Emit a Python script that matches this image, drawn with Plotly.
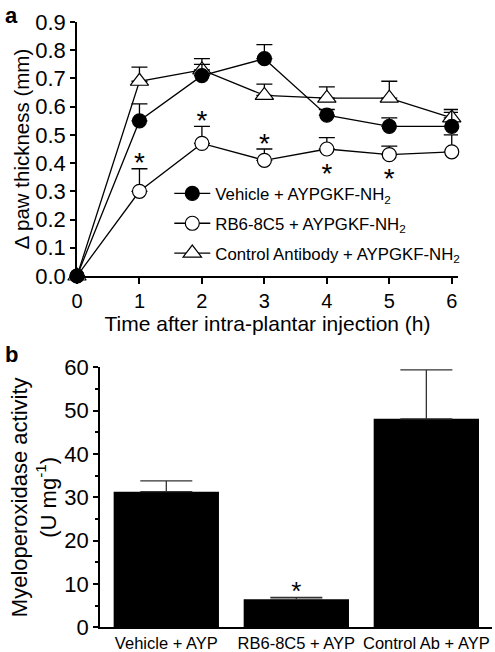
import plotly.graph_objects as go

# ---------------- data ----------------
time_h = [0, 1, 2, 3, 4, 5, 6]
vehicle = [0.0, 0.55, 0.71, 0.77, 0.57, 0.53, 0.53]
vehicle_err = [0.0, 0.06, 0.04, 0.05, 0.02, 0.03, 0.06]
rb6 = [0.0, 0.30, 0.47, 0.41, 0.45, 0.43, 0.44]
rb6_err = [0.0, 0.08, 0.06, 0.04, 0.04, 0.03, 0.06]
ctrl = [0.0, 0.69, 0.73, 0.64, 0.63, 0.63, 0.56]
ctrl_err = [0.0, 0.05, 0.04, 0.04, 0.04, 0.06, 0.02]
sig_times = [1, 2, 3, 4, 5]
sig_side = ["above", "above", "above", "below", "below"]

series_names = [
    "Vehicle + AYPGKF-NH<sub>2</sub>",
    "RB6-8C5 + AYPGKF-NH<sub>2</sub>",
    "Control Antibody + AYPGKF-NH<sub>2</sub>",
]

bar_labels = ["Vehicle + AYP", "RB6-8C5 + AYP", "Control Ab + AYP"]
mpo = [31.3, 6.5, 48.1]
mpo_err = [2.5, 0.4, 11.3]
mpo_sig = [False, True, False]

FONT = "Arial, Liberation Sans, Helvetica, sans-serif"

fig = go.Figure()

line_style = dict(color="black", width=1.3)

# drawn back-to-front: control, RB6, vehicle (legend order kept via legendrank)
fig.add_trace(go.Scatter(
    x=time_h, y=ctrl, mode="lines+markers", name=series_names[2],
    legendgroup="g3", legendrank=3,
    line=line_style,
    marker=dict(symbol="triangle-up", size=16, color="white", line=dict(color="black", width=1.2)),
    error_y=dict(type="data", array=ctrl_err, arrayminus=[0]*len(ctrl_err), symmetric=False,
                 color="black", thickness=1.3, width=8),
    cliponaxis=False, xaxis="x", yaxis="y",
))
fig.add_trace(go.Scatter(
    x=time_h, y=rb6, mode="lines+markers", name=series_names[1],
    legendgroup="g2", legendrank=2,
    line=line_style,
    marker=dict(symbol="circle", size=14, color="white", line=dict(color="black", width=1.2)),
    error_y=dict(type="data", array=rb6_err, arrayminus=[0]*len(rb6_err), symmetric=False,
                 color="black", thickness=1.3, width=8),
    cliponaxis=False, xaxis="x", yaxis="y",
))
fig.add_trace(go.Scatter(
    x=time_h, y=vehicle, mode="lines+markers", name=series_names[0],
    legendgroup="g1", legendrank=1,
    line=line_style,
    marker=dict(symbol="circle", size=14, color="black", line=dict(color="black", width=1.2)),
    error_y=dict(type="data", array=vehicle_err, arrayminus=[0]*len(vehicle_err), symmetric=False,
                 color="black", thickness=1.3, width=8),
    cliponaxis=False, xaxis="x", yaxis="y",
))

star_y = []
for t, side in zip(sig_times, sig_side):
    i = time_h.index(t)
    if side == "above":
        star_y.append(rb6[i] + rb6_err[i] + 0.012)
    else:
        star_y.append(rb6[i] - 0.095)
fig.add_trace(go.Scatter(
    x=sig_times, y=star_y, mode="text", text=["*"] * len(sig_times),
    textfont=dict(family=FONT, size=28, color="black"), textposition="middle center",
    showlegend=False, cliponaxis=False, xaxis="x", yaxis="y", hoverinfo="skip",
))

fig.add_trace(go.Bar(
    x=[0, 1, 2], y=mpo, width=0.81, marker=dict(color="black", line=dict(width=0)),
    error_y=dict(type="data", array=mpo_err, arrayminus=[0]*3, symmetric=False,
                 color="#333333", thickness=1.3, width=26),
    showlegend=False, xaxis="x2", yaxis="y2",
))
bx, by = [], []
for i, s in enumerate(mpo_sig):
    if s:
        bx.append(i)
        by.append(mpo[i] + mpo_err[i] + 0.9)
fig.add_trace(go.Scatter(
    x=bx, y=by, mode="text", text=["*"] * len(bx),
    textfont=dict(family=FONT, size=26, color="black"), textposition="middle center",
    showlegend=False, cliponaxis=False, xaxis="x2", yaxis="y2", hoverinfo="skip",
))

W, H = 495, 652
axis_common = dict(showline=True, linecolor="black", linewidth=1.5, ticks="outside",
                   tickcolor="black", tickwidth=1.5, showgrid=False, zeroline=False,
                   mirror=False, automargin=False)

fig.update_layout(
    template="none",
    width=W, height=H,
    margin=dict(l=0, r=0, t=0, b=0, pad=0),
    paper_bgcolor="white", plot_bgcolor="white",
    font=dict(family=FONT, color="black"),
    showlegend=True,
    legend=dict(x=0.342, y=1 - 176 / H, xanchor="left", yanchor="top",
                font=dict(family=FONT, size=16.8, color="black"),
                bgcolor="rgba(0,0,0,0)", borderwidth=0, tracegroupgap=5, itemwidth=36,
                traceorder="grouped"),
    xaxis=dict(domain=[77 / W, 458 / W], anchor="y", range=[0, 6.1],
               tickvals=time_h, ticklen=6, tickfont=dict(size=20),
               title=dict(text="Time after intra-plantar injection (h)", font=dict(size=21), standoff=6),
               **axis_common),
    yaxis=dict(domain=[1 - 276 / H, 1 - 22 / H], anchor="x", range=[0, 0.9],
               dtick=0.1, tickformat=".1f", ticklen=5, tickfont=dict(size=22),
               title=dict(text="Δ paw thickness (mm)", font=dict(size=20.5), standoff=0),
               **axis_common),
    xaxis2=dict(domain=[100 / W, 492 / W], anchor="y2", range=[-0.51, 2.505],
                tickvals=[0, 1, 2], ticktext=bar_labels, tickfont=dict(size=16.5),
                showline=True, linecolor="black", linewidth=1.5, ticks="",
                showgrid=False, zeroline=False, automargin=False),
    yaxis2=dict(domain=[1 - 627.3 / H, 1 - 367.3 / H], anchor="x2", range=[0, 60],
                dtick=10, ticklen=5, tickfont=dict(size=22),
                minor=dict(dtick=5, ticklen=3, ticks="outside", tickcolor="black", tickwidth=1.5,
                           showgrid=False),
                title=dict(text="Myeloperoxidase activity<br>(U mg<sup>-1</sup>)", font=dict(size=22), standoff=2),
                **axis_common),
    annotations=[
        dict(text="<b>a</b>", x=3 / W, y=1 - 16 / H, xref="paper", yref="paper",
             xanchor="left", yanchor="middle", showarrow=False, font=dict(size=22, family=FONT)),
        dict(text="<b>b</b>", x=3 / W, y=1 - 354 / H, xref="paper", yref="paper",
             xanchor="left", yanchor="middle", showarrow=False, font=dict(size=22, family=FONT)),
    ],
)

fig.write_html("out.html", config={"displayModeBar": False},
               post_script="document.body.style.margin='0';document.body.style.overflow='hidden';")
